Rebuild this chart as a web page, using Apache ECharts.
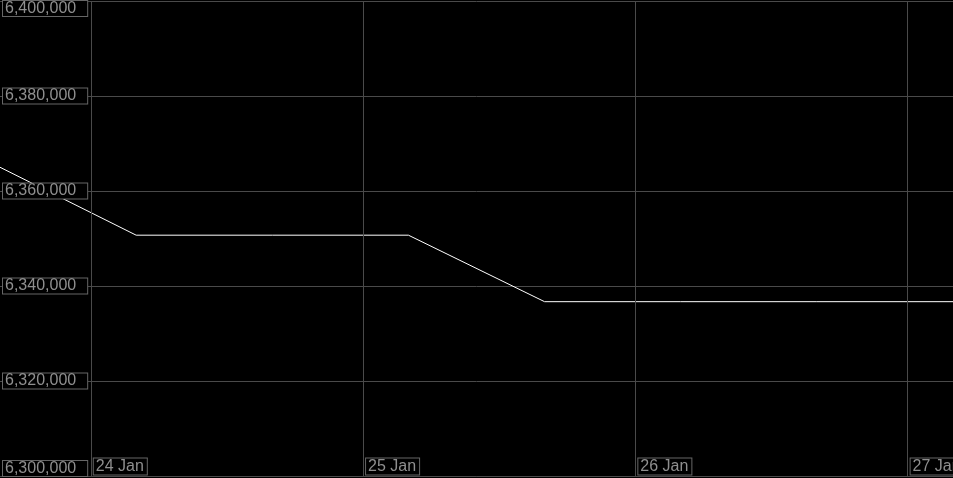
<!DOCTYPE html>
<html>
<head>
<meta charset="utf-8">
<script src="https://cdn.jsdelivr.net/npm/echarts@6/dist/echarts.min.js"></script>
<style>
html,body{margin:0;padding:0;background:#000;}
#chart{width:953px;height:478px;}
</style>
</head>
<body>
<div id="chart"></div>
<script>
// Data
var pointTimes = ['23 Jan 16:00','24 Jan 04:00','24 Jan 16:00','25 Jan 04:00','25 Jan 16:00','26 Jan 04:00','26 Jan 16:00','27 Jan 04:00'];
var pointValues = [6365000, 6350700, 6350700, 6350700, 6336700, 6336700, 6336700, 6336700];
var yMin = 6300000, yMax = 6400000, yStep = 20000;
var axisDays = [23, 24, 25, 26, 27];
var startHour = 16, endHour = 4;

// hourly category scaffold for the x axis
var categories = [];
axisDays.forEach(function (d, di) {
  var h0 = di === 0 ? startHour : 0;
  var h1 = di === axisDays.length - 1 ? endHour : 23;
  for (var h = h0; h <= h1; h++) {
    categories.push(d + ' Jan ' + (h < 10 ? '0' + h : h) + ':00');
  }
});

var seriesData = pointTimes.map(function (t, i) { return [t, pointValues[i]]; });

var gridColor = '#4a4a4a';
var boxColor = '#666666';
var textColor = '#8f8f8f';
var font = 'Liberation Sans, Arial, sans-serif';

var chart = echarts.init(document.getElementById('chart'));
chart.setOption({
  backgroundColor: '#000000',
  animation: false,
  grid: { left: 0, right: 0, top: 1, bottom: 2, containLabel: false, outerBoundsMode: 'none' },
  xAxis: {
    type: 'category',
    data: categories,
    boundaryGap: false,
    z: 10,
    axisLine: { show: true, lineStyle: { color: gridColor, width: 1 } },
    axisTick: { show: false },
    splitLine: {
      show: true,
      interval: function (idx, val) { return /00:00$/.test(val); },
      lineStyle: { color: gridColor, width: 1 }
    },
    axisLabel: {
      inside: true,
      margin: 2,
      align: 'left',
      hideOverlap: false,
      padding: [0, 0, 0, 3],
      interval: function (idx, val) { return /00:00$/.test(val); },
      formatter: function (val) { return '{b|' + val.split(' ').slice(0, 2).join(' ') + '}'; },
      rich: {
        b: {
          color: textColor,
          fontFamily: font,
          fontSize: 16,
          lineHeight: 15,
          padding: [0, 3, 0, 2],
          borderColor: boxColor,
          borderWidth: 1,
          backgroundColor: '#000000'
        }
      }
    }
  },
  yAxis: [{
    type: 'value',
    min: yMin,
    max: yMax,
    interval: yStep,
    z: 0,
    axisLine: { show: false },
    axisTick: { show: false },
    axisLabel: { show: false },
    splitLine: { show: true, lineStyle: { color: gridColor, width: 1 } }
  }, {
    type: 'value',
    position: 'left',
    min: yMin,
    max: yMax,
    interval: yStep,
    z: 10,
    axisLine: { show: false },
    axisTick: { show: false },
    splitLine: { show: false },
    axisLabel: {
      inside: true,
      margin: 3,
      align: 'left',
      verticalAlignMinLabel: 'bottom',
      verticalAlignMaxLabel: 'top',
      color: textColor,
      fontFamily: font,
      fontSize: 16,
      lineHeight: 15,
      padding: [0, 11, 0, 2],
      borderColor: boxColor,
      borderWidth: 1,
      backgroundColor: '#000000',
      formatter: function (v) { return v.toLocaleString('en-US'); }
    }
  }],
  series: [{
    type: 'line',
    yAxisIndex: 0,
    data: seriesData,
    showSymbol: false,
    symbol: 'none',
    lineStyle: { color: '#ffffff', width: 1 },
    z: 2
  }]
});
</script>
</body>
</html>
